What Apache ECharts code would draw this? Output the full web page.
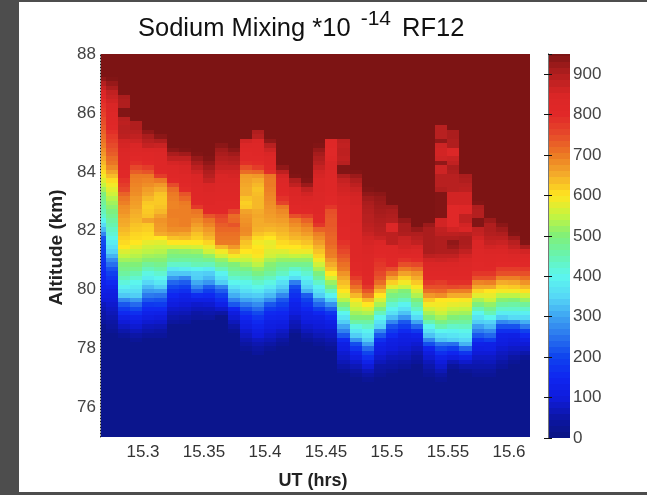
<!DOCTYPE html>
<html>
<head>
<meta charset="utf-8">
<title>Sodium Mixing RF12</title>
<script src="https://cdn.jsdelivr.net/npm/echarts@6/dist/echarts.min.js"></script>
<style>
html, body { margin: 0; padding: 0; background: #4d4d4d; }
#chart_dom { width: 647px; height: 495px; }
</style>
</head>
<body>
<div id="chart_dom"></div>
<script>
const xTicks = [15.3, 15.35, 15.4, 15.45, 15.5, 15.55, 15.6];
const yTicks = [76, 78, 80, 82, 84, 86, 88];

// column centres, hours
const utHours = [15.2644, 15.2744, 15.2844, 15.2944, 15.3044, 15.3144, 15.3244, 15.3344, 15.3444, 15.3544, 15.3644, 15.3744,
    15.3844, 15.3944, 15.4044, 15.4144, 15.4244, 15.4344, 15.4444, 15.4544, 15.4644, 15.4744, 15.4844, 15.4944,
    15.5044, 15.5144, 15.5244, 15.5344, 15.5444, 15.5544, 15.5644, 15.5744, 15.5844, 15.5944, 15.6044, 15.6144];

// row centres, km
const altitudes = [75, 75.15, 75.3, 75.45, 75.6, 75.75, 75.9, 76.05, 76.2, 76.35, 76.5, 76.65, 76.8,
    76.95, 77.1, 77.25, 77.4, 77.55, 77.7, 77.85, 78, 78.15, 78.3, 78.45, 78.6, 78.75, 78.9, 79.05, 79.2, 79.35, 79.5,
    79.65, 79.8, 79.95, 80.1, 80.25, 80.4, 80.55, 80.7, 80.85, 81, 81.15, 81.3, 81.45, 81.6, 81.75, 81.9, 82.05, 82.2,
    82.35, 82.5, 82.65, 82.8, 82.95, 83.1, 83.25, 83.4, 83.55, 83.7, 83.85, 84, 84.15, 84.3, 84.45, 84.6, 84.75, 84.9,
    85.05, 85.2, 85.35, 85.5, 85.65, 85.8, 85.95, 86.1, 86.25, 86.4, 86.55, 86.7, 86.85, 87, 87.15, 87.3, 87.45, 87.6,
    87.75, 87.9, 88.05];
const navyRows = 13; // rows under 76.95 are all floor value

const floorValue = 15;
const ceilValue = 950;

// first listed row of each column, counted from 76.95 km
const firstRow = [13, 11, 10, 9, 10, 10, 13, 13, 14, 14, 15, 11, 7, 6, 7, 8, 11, 9, 8, 7, 2, 1, 0, 1,
    2, 3, 4, 1, 0, 3, 2, 1, 1, 3, 4, 5];

// sodium mixing per column, bottom to top; above the list it is ceilValue
const mixingCols = [
    [35, 45, 50, 60, 70, 95, 105, 118, 125, 135, 140, 150, 160, 165, 175, 180, 190, 195, 205, 215, 270, 320, 355, 395, 425, 440, 455, 470, 480, 495, 525, 550, 570, 590, 610, 625, 640, 655, 670, 680, 695, 705, 715, 725, 735, 745, 750, 765, 775, 785, 795, 820, 845, 870, 895, 930],
    [28, 38, 48, 58, 67, 77, 87, 97, 106, 116, 135, 155, 175, 195, 215, 245, 275, 315, 345, 365, 385, 405, 420, 435, 450, 465, 480, 495, 510, 525, 540, 560, 575, 590, 610, 635, 660, 685, 705, 715, 730, 740, 750, 765, 775, 790, 805, 815, 825, 830, 840, 850, 860, 870, 880, 905, 925, 945],
    [33, 55, 75, 95, 120, 155, 185, 220, 270, 335, 360, 390, 415, 440, 465, 485, 500, 525, 550, 570, 600, 610, 620, 630, 640, 650, 655, 665, 675, 680, 695, 705, 725, 755, 770, 785, 805, 810, 815, 820, 830, 835, 845, 855, 860, 885, 890, 890, 885, 890, 945, 945, 900, 900, 905],
    [30, 50, 70, 90, 110, 130, 165, 205, 240, 290, 340, 360, 380, 400, 425, 450, 480, 500, 520, 540, 555, 580, 600, 610, 615, 625, 630, 640, 645, 650, 660, 665, 670, 680, 685, 690, 695, 700, 730, 755, 790, 805, 820, 835, 850, 865, 880, 890, 900, 900],
    [35, 55, 70, 90, 110, 130, 155, 180, 220, 255, 290, 320, 350, 385, 410, 440, 470, 505, 525, 545, 560, 580, 605, 610, 620, 625, 660, 630, 625, 620, 625, 640, 655, 665, 680, 690, 700, 740, 770, 800, 815, 825, 845, 875, 890, 905, 930],
    [35, 50, 65, 85, 100, 125, 155, 185, 215, 250, 295, 340, 375, 400, 425, 455, 480, 505, 520, 540, 555, 575, 600, 650, 665, 670, 675, 660, 640, 630, 625, 625, 630, 650, 670, 700, 770, 810, 820, 825, 830, 835, 850, 870, 900, 935],
    [40, 55, 70, 85, 105, 125, 150, 175, 205, 235, 290, 335, 375, 430, 470, 490, 510, 560, 600, 630, 660, 680, 690, 690, 695, 695, 690, 690, 695, 700, 715, 750, 800, 815, 820, 830, 855, 880, 905, 935],
    [35, 50, 65, 80, 95, 115, 130, 165, 195, 225, 270, 335, 385, 430, 465, 490, 515, 560, 600, 635, 655, 680, 695, 695, 695, 695, 695, 700, 720, 740, 795, 805, 815, 825, 840, 850, 860, 880, 915, 945],
    [38, 50, 70, 85, 120, 160, 225, 270, 305, 340, 345, 395, 445, 470, 490, 520, 565, 600, 620, 630, 650, 665, 680, 695, 705, 775, 810, 815, 820, 825, 835, 840, 850, 865, 885, 905, 925, 945],
    [40, 55, 70, 90, 120, 155, 190, 225, 285, 320, 340, 385, 440, 480, 515, 560, 585, 615, 640, 655, 670, 690, 705, 740, 800, 810, 820, 825, 830, 840, 850, 875, 890, 900, 915, 930, 945],
    [50, 85, 125, 160, 190, 225, 265, 340, 370, 395, 440, 480, 515, 560, 590, 640, 700, 705, 710, 720, 730, 745, 760, 800, 805, 810, 815, 820, 830, 835, 845, 850, 860, 875, 885, 895, 905, 915, 935],
    [28, 50, 70, 90, 105, 150, 220, 265, 310, 335, 365, 400, 425, 455, 480, 500, 550, 590, 630, 670, 700, 705, 710, 720, 740, 720, 715, 760, 800, 810, 815, 820, 830, 835, 845, 855, 860, 875, 890, 900, 915, 935],
    [30, 45, 60, 75, 90, 110, 125, 150, 175, 215, 255, 300, 335, 360, 385, 405, 435, 460, 490, 520, 550, 575, 600, 620, 630, 650, 680, 685, 680, 675, 670, 660, 625, 620, 630, 650, 650, 655, 660, 665, 715, 745, 790, 805, 810, 815, 835, 860],
    [35, 45, 60, 75, 100, 115, 135, 155, 175, 205, 240, 275, 310, 340, 375, 405, 430, 455, 490, 515, 545, 570, 595, 605, 600, 590, 610, 630, 645, 650, 650, 655, 650, 640, 640, 640, 635, 630, 640, 650, 670, 720, 770, 795, 810, 815, 820, 830, 840, 890, 900],
    [30, 50, 65, 80, 95, 110, 120, 140, 155, 185, 220, 275, 320, 345, 380, 410, 435, 465, 490, 505, 530, 560, 570, 585, 580, 600, 620, 640, 650, 660, 665, 670, 675, 680, 685, 690, 695, 700, 700, 705, 790, 810, 820, 830, 850, 865, 890, 930],
    [30, 45, 65, 80, 100, 115, 135, 150, 170, 195, 220, 270, 315, 340, 365, 395, 435, 460, 480, 515, 545, 570, 600, 610, 625, 635, 645, 655, 665, 675, 685, 700, 760, 785, 805, 815, 825, 835, 855, 885, 930],
    [35, 60, 70, 85, 105, 120, 130, 150, 165, 185, 210, 260, 360, 400, 430, 480, 515, 550, 585, 600, 620, 640, 650, 665, 680, 695, 745, 800, 810, 820, 830, 840, 850, 880, 900, 945],
    [32, 50, 70, 85, 100, 115, 125, 150, 170, 195, 225, 315, 345, 370, 395, 425, 450, 480, 515, 545, 585, 610, 630, 645, 665, 680, 700, 725, 765, 805, 815, 830, 845, 860, 880, 920, 945],
    [32, 45, 65, 80, 95, 105, 120, 150, 190, 235, 275, 340, 370, 395, 430, 465, 495, 530, 560, 590, 615, 630, 645, 665, 680, 695, 725, 780, 805, 810, 820, 825, 825, 835, 835, 840, 840, 845, 855, 860, 875, 890, 900, 910, 925, 945],
    [30, 45, 60, 75, 85, 105, 120, 150, 175, 225, 280, 340, 395, 440, 490, 520, 565, 600, 630, 650, 670, 695, 700, 710, 720, 720, 725, 730, 735, 735, 740, 745, 780, 805, 810, 815, 820, 820, 825, 830, 835, 850, 850, 815, 810, 810, 815, 820],
    [30, 50, 65, 80, 90, 110, 120, 155, 220, 265, 300, 340, 370, 400, 455, 500, 540, 575, 600, 620, 635, 655, 675, 700, 710, 725, 740, 755, 770, 785, 800, 805, 810, 815, 820, 825, 830, 835, 840, 845, 855, 860, 865, 875, 900, 945, 945, 890, 880, 885, 885, 880, 885],
    [30, 45, 65, 85, 110, 135, 175, 210, 285, 340, 375, 410, 460, 500, 525, 550, 570, 595, 640, 680, 710, 740, 770, 795, 805, 810, 815, 820, 820, 825, 825, 830, 830, 835, 835, 840, 845, 845, 850, 855, 855, 860, 870, 885, 900, 920, 945],
    [30, 50, 70, 95, 130, 165, 200, 240, 295, 340, 370, 395, 430, 460, 500, 535, 565, 600, 640, 700, 740, 780, 805, 810, 815, 820, 825, 830, 835, 840, 850, 855, 860, 870, 880, 885, 890, 890, 895, 900, 905, 915, 930, 945],
    [30, 40, 50, 70, 85, 100, 115, 130, 165, 220, 270, 345, 370, 400, 440, 490, 530, 565, 600, 640, 680, 715, 740, 755, 770, 780, 790, 805, 815, 825, 840, 870, 885, 890, 895, 900, 905, 910, 915, 920, 925, 935],
    [30, 45, 55, 70, 85, 100, 110, 120, 155, 185, 215, 270, 325, 365, 395, 425, 465, 490, 520, 575, 620, 660, 705, 750, 800, 810, 815, 820, 825, 885, 885, 885, 835, 835, 895, 900, 905, 915],
    [35, 50, 65, 75, 90, 100, 110, 120, 155, 190, 220, 285, 330, 365, 395, 440, 480, 500, 555, 590, 620, 660, 700, 745, 785, 815, 840, 860, 865, 870, 900, 905, 905, 925],
    [35, 45, 60, 75, 90, 110, 130, 180, 235, 300, 355, 395, 435, 465, 500, 535, 565, 595, 625, 650, 675, 715, 755, 795, 815, 835, 855, 880, 890, 900, 925],
    [30, 40, 55, 70, 90, 105, 140, 210, 270, 330, 365, 400, 450, 500, 530, 560, 590, 625, 670, 715, 745, 780, 805, 815, 830, 845, 860, 885, 905, 905, 905, 905, 905, 905, 920],
    [30, 45, 65, 85, 100, 125, 165, 205, 250, 330, 360, 400, 450, 490, 525, 555, 575, 590, 600, 680, 720, 745, 770, 805, 815, 830, 845, 865, 880, 900, 900, 900, 900, 885, 880, 860, 860, 945, 945, 945, 945, 945, 945, 900, 890, 890, 890, 865, 865, 930, 865, 860, 860, 865, 930, 890, 890, 890],
    [35, 65, 105, 145, 190, 245, 340, 370, 395, 430, 470, 500, 530, 555, 580, 600, 650, 695, 750, 790, 810, 820, 830, 840, 860, 880, 900, 920, 930, 900, 885, 860, 810, 805, 805, 810, 810, 860, 860, 860, 890, 890, 890, 890, 900, 905, 880, 870, 835, 835, 900, 900, 905, 905],
    [30, 55, 85, 125, 175, 235, 315, 350, 380, 405, 435, 465, 490, 525, 550, 575, 595, 650, 695, 745, 790, 805, 815, 825, 835, 845, 860, 880, 900, 905, 905, 890, 850, 860, 880, 880, 820, 815, 860, 860, 860, 885, 890, 900, 905],
    [30, 40, 55, 65, 80, 95, 115, 130, 170, 220, 260, 295, 340, 370, 400, 445, 495, 530, 575, 615, 655, 690, 745, 780, 805, 810, 815, 825, 830, 840, 845, 860, 875, 880, 945, 945, 895, 895, 900, 945],
    [30, 40, 55, 70, 80, 95, 120, 125, 190, 235, 275, 320, 345, 400, 445, 480, 515, 555, 580, 600, 655, 695, 745, 780, 805, 815, 820, 830, 845, 860, 875, 885, 895, 900, 900, 920],
    [35, 50, 65, 75, 90, 105, 115, 125, 165, 215, 270, 340, 385, 430, 465, 505, 545, 590, 620, 650, 695, 745, 770, 800, 815, 825, 840, 855, 870, 885, 900, 915, 935],
    [30, 45, 65, 80, 95, 105, 120, 165, 215, 280, 355, 385, 430, 460, 500, 545, 590, 625, 655, 695, 745, 770, 800, 820, 835, 855, 875, 890, 915, 945],
    [30, 55, 80, 95, 120, 155, 195, 255, 310, 355, 390, 430, 470, 520, 560, 605, 640, 675, 710, 745, 775, 805, 815, 835, 860, 905, 945]
];

// one colour every 50 units, 0 to 950
const colorStops = ['#0a1482', '#0c16a5', '#0f1cdc', '#0f26f0', '#0f44ee', '#2a74ee', '#3ea4f2', '#56d8f6', '#5cf6ee', '#68f4b0',
    '#80f078', '#c4f440', '#ffe620', '#f4ac2a', '#ec7a24', '#e64a2a', '#e12828', '#da2626', '#b01e1e', '#7d1414'];

// colorbar cells, drawn 15 units tall
const colorbarLevels = [7, 22, 37, 52, 67, 82, 97, 112, 127, 142, 157, 172, 187, 202, 217, 232, 247, 262, 277, 292, 307, 322,
    337, 352, 367, 382, 397, 412, 427, 442, 457, 472, 487, 502, 517, 532, 547, 562, 577, 592, 607, 622, 637, 652, 667, 682,
    697, 712, 727, 742, 757, 772, 787, 802, 817, 832, 847, 862, 877, 892, 907, 922, 937, 952];

const cellHours = 0.01;
const cellKm = 0.15;
const textFont = '"Liberation Sans", Arial, sans-serif';

let cells = [];
utHours.forEach(function(ut, j) {
    altitudes.forEach(function(alt, r) {
        let k = r - navyRows - firstRow[j];
        let value = k < 0 ? floorValue : (k >= mixingCols[j].length ? ceilValue : mixingCols[j][k]);
        cells.push([ut, alt, value, cellHours, cellKm]);
    });
});

let barCells = colorbarLevels.map(function(level) {
    return [0.5, level, level, 1, 15];
});

function renderCell(params, api) {
    let w = api.value(3) / 2;
    let h = api.value(4) / 2;
    let p0 = api.coord([api.value(0) - w, api.value(1) + h]);
    let p1 = api.coord([api.value(0) + w, api.value(1) - h]);
    let x0 = Math.round(p0[0]);
    let y0 = Math.round(p0[1]);
    let rect = echarts.graphic.clipRectByRect(
        { x: x0, y: y0, width: Math.round(p1[0]) - x0, height: Math.round(p1[1]) - y0 },
        { x: params.coordSys.x, y: params.coordSys.y, width: params.coordSys.width, height: params.coordSys.height }
    );
    if (!rect) {
        return null;
    }
    return {
        type: 'rect',
        shape: rect,
        style: { fill: api.visual('color') }
    };
}

let chart = echarts.init(document.getElementById('chart_dom'));
chart.setOption({
    animation: false,
    backgroundColor: '#4d4d4d',
    graphic: [{
        type: 'rect',
        z: -10,
        silent: true,
        shape: { x: 19, y: 2, width: 628, height: 490 },
        style: { fill: '#ffffff' }
    }],
    title: {
        left: 133,
        top: 3,
        text: '{a|Sodium Mixing *10 }{b|-14}{a| RF12}',
        textStyle: {
            fontWeight: 'normal',
            rich: {
                a: { fontFamily: textFont, fontSize: 25.5, fontWeight: 'normal', color: '#111', padding: [8, 0, 0, 0] },
                b: { fontFamily: textFont, fontSize: 21, fontWeight: 'normal', color: '#111', padding: [0, 4, 11, 3] }
            }
        }
    },
    grid: [
        { left: 101, top: 54, width: 429, height: 384 },
        { left: 548, top: 54, width: 22, height: 384 }
    ],
    xAxis: [
        {
            type: 'value',
            gridIndex: 0,
            min: 15.2656,
            max: 15.6172,
            name: 'UT (hrs)',
            nameLocation: 'middle',
            nameGap: 35,
            nameTextStyle: { fontFamily: textFont, fontSize: 18, fontWeight: 'bold', color: '#222', padding: [0, 5, 0, 0] },
            axisLine: { show: false },
            axisTick: { show: false },
            splitLine: { show: false },
            axisLabel: {
                customValues: xTicks,
                formatter: function(v) { return String(v); },
                margin: 7,
                fontFamily: textFont,
                fontSize: 17,
                color: '#333'
            }
        },
        { type: 'value', gridIndex: 1, min: 0, max: 1, show: false }
    ],
    yAxis: [
        {
            type: 'value',
            gridIndex: 0,
            min: 75,
            max: 88,
            offset: 1,
            name: 'Altitude (km)',
            nameLocation: 'middle',
            nameGap: 31,
            nameTextStyle: { fontFamily: textFont, fontSize: 19, fontWeight: 'bold', color: '#222', padding: [0, 4, 0, 0] },
            z: 5,
            axisLine: { show: true, lineStyle: { color: '#222', type: [1, 2], width: 1 } },
            axisTick: { show: false },
            splitLine: { show: false },
            axisLabel: {
                customValues: yTicks,
                margin: 4,
                fontFamily: textFont,
                fontSize: 17,
                color: '#444'
            }
        },
        {
            type: 'value',
            gridIndex: 1,
            position: 'right',
            min: 0,
            max: 950,
            interval: 100,
            z: 5,
            axisLine: { show: true, lineStyle: { color: '#555' } },
            axisTick: { show: true, inside: true, length: 4, lineStyle: { color: '#111' } },
            splitLine: { show: false },
            axisLabel: { showMaxLabel: false, margin: 3, fontFamily: textFont, fontSize: 17, color: '#444' }
        },
        {
            type: 'value',
            gridIndex: 1,
            position: 'left',
            min: 0,
            max: 950,
            interval: 100,
            z: 5,
            axisLine: { show: true, lineStyle: { color: '#777' } },
            axisTick: { show: true, inside: true, length: 4, lineStyle: { color: '#111' } },
            axisLabel: { show: false },
            splitLine: { show: false }
        }
    ],
    visualMap: {
        show: false,
        type: 'continuous',
        min: 0,
        max: 950,
        dimension: 2,
        seriesIndex: [0, 1],
        inRange: { color: colorStops }
    },
    series: [
        {
            type: 'custom',
            xAxisIndex: 0,
            yAxisIndex: 0,
            renderItem: renderCell,
            encode: { x: 0, y: 1 },
            data: cells
        },
        {
            type: 'custom',
            xAxisIndex: 1,
            yAxisIndex: 1,
            renderItem: renderCell,
            encode: { x: 0, y: 1 },
            data: barCells
        }
    ]
});
</script>
</body>
</html>
